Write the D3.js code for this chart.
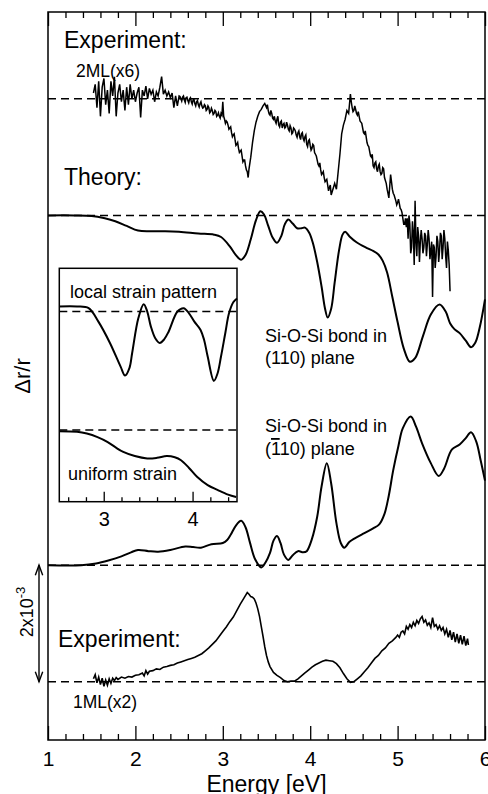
<html>
<head>
<script src="https://d3js.org/d3.v7.min.js"></script>
<style>
  body { margin: 0; background: #fff; }
  svg text { font-family: "Liberation Sans", Arial, Helvetica, sans-serif; fill: #000; }
</style>
</head>
<body>
<svg id="svg" width="488" height="794"></svg>
<script>
// energies (eV) and values (units of 1e-3 dr/r, relative to each curve's own baseline)
var majorTicks = [1, 2, 3, 4, 5, 6];
var insetTicks = [3, 4];

// experiment 2ML (x6)
var exp2 = [[1.52,0.10],[1.54,0.25],[1.56,-0.15],[1.58,0.30],[1.60,-0.30],[1.62,0.20],[1.64,0.35],[1.66,-0.10],
  [1.68,0.15],[1.70,-0.25],[1.72,0.30],[1.74,0.05],[1.76,0.38],[1.78,-0.30],[1.80,0.10],[1.82,0.25],[1.84,-0.05],
  [1.86,0.15],[1.88,-0.20],[1.90,0.20],[1.92,-0.10],[1.94,0.25],[1.96,0.00],[1.98,0.15],[2.00,-0.05],[2.02,0.10],
  [2.04,0.20],[2.06,-0.32],[2.08,0.15],[2.10,0.05],[2.12,0.22],[2.14,0.00],[2.16,0.18],[2.18,0.08],[2.20,0.15],
  [2.22,-0.05],[2.24,0.12],[2.26,0.05],[2.28,0.20],[2.30,0.38],[2.32,0.08],[2.34,0.15],[2.36,0.05],[2.38,0.12],
  [2.40,0.02],[2.42,0.10],[2.44,-0.15],[2.46,0.05],[2.48,-0.12],[2.50,0.05],[2.52,0.00],[2.54,0.03],[2.56,-0.02],
  [2.58,0.02],[2.60,-0.03],[2.62,0.00],[2.64,-0.05],[2.66,-0.02],[2.68,-0.08],[2.70,-0.05],[2.72,-0.10],[2.74,-0.08],
  [2.76,-0.12],[2.78,-0.15],[2.80,-0.12],[2.82,-0.18],[2.84,-0.15],[2.86,-0.22],[2.88,-0.20],[2.90,-0.25],[2.92,-0.22],
  [2.94,-0.28],[2.96,-0.30],[2.98,-0.25],[3.00,-0.05],[3.02,-0.35],[3.04,-0.38],[3.06,-0.45],[3.08,-0.50],[3.10,-0.58],
  [3.12,-0.62],[3.14,-0.70],[3.16,-0.78],[3.18,-0.85],[3.20,-0.90],[3.22,-0.98],[3.24,-1.05],[3.26,-1.15],[3.28,-1.25],
  [3.29,-1.35],[3.30,-1.20],[3.32,-1.00],[3.34,-0.75],[3.36,-0.55],[3.38,-0.40],[3.40,-0.30],[3.42,-0.22],[3.44,-0.18],
  [3.46,-0.12],[3.48,-0.08],[3.50,-0.15],[3.52,-0.20],[3.54,-0.28],[3.56,-0.25],[3.58,-0.35],[3.60,-0.38],[3.62,-0.35],
  [3.64,-0.45],[3.66,-0.40],[3.68,-0.50],[3.70,-0.42],[3.72,-0.48],[3.74,-0.45],[3.76,-0.55],[3.78,-0.50],[3.80,-0.58],
  [3.82,-0.52],[3.84,-0.62],[3.86,-0.58],[3.88,-0.65],[3.90,-0.60],[3.92,-0.68],[3.94,-0.65],[3.96,-0.78],[3.98,-0.72],
  [4.00,-0.80],[4.02,-0.85],[4.04,-0.80],[4.06,-0.95],[4.08,-1.05],[4.10,-1.15],[4.12,-1.22],[4.14,-1.28],[4.16,-1.35],
  [4.18,-1.40],[4.20,-1.48],[4.22,-1.52],[4.24,-1.65],[4.26,-1.55],[4.28,-1.45],[4.30,-1.55],[4.32,-1.25],[4.34,-0.95],
  [4.36,-0.60],[4.38,-0.45],[4.40,-0.35],[4.42,-0.20],[4.44,-0.25],[4.46,0.08],[4.48,-0.15],[4.50,-0.20],[4.52,-0.18],
  [4.54,-0.28],[4.56,-0.30],[4.58,-0.40],[4.60,-0.50],[4.62,-0.60],[4.64,-0.65],[4.66,-0.80],[4.68,-0.90],[4.70,-1.00],
  [4.72,-1.15],[4.74,-1.10],[4.76,-1.20],[4.78,-1.15],[4.80,-1.25],[4.82,-1.28],[4.84,-1.20],[4.86,-1.40],[4.88,-1.55],
  [4.90,-1.70],[4.92,-1.30],[4.94,-1.55],[4.96,-1.65],[4.98,-1.75],[5.00,-1.78],[5.02,-1.80],[5.04,-1.90],[5.06,-2.05],
  [5.08,-2.15],[5.10,-2.20],[5.11,-2.05],[5.12,-2.40],[5.13,-2.00],[5.14,-2.15],[5.15,-2.65],[5.16,-2.55],[5.17,-2.10],
  [5.18,-2.30],[5.19,-2.85],[5.20,-1.75],[5.21,-2.45],[5.22,-2.70],[5.23,-2.20],[5.24,-2.35],[5.25,-2.80],[5.26,-2.45],
  [5.27,-2.25],[5.28,-2.40],[5.29,-2.65],[5.30,-2.55],[5.31,-2.30],[5.32,-2.35],[5.33,-2.70],[5.34,-2.50],[5.35,-2.25],
  [5.36,-2.40],[5.37,-2.75],[5.38,-2.60],[5.39,-2.45],[5.40,-3.40],[5.41,-2.50],[5.42,-2.55],[5.43,-2.90],[5.44,-2.70],
  [5.45,-2.35],[5.46,-2.45],[5.47,-2.80],[5.48,-2.60],[5.49,-2.30],[5.50,-2.35],[5.51,-2.75],[5.52,-2.55],[5.53,-2.25],
  [5.54,-2.40],[5.55,-2.70],[5.56,-2.90],[5.57,-2.45],[5.58,-2.60],[5.59,-2.85],[5.60,-3.30]];
// extra in-between readings of the same trace (dense noise)
var exp2Fine = [[2.51,0.04],[2.53,-0.04],[2.55,0.05],[2.57,-0.06],[2.59,0.03],[2.61,-0.07],[2.63,0.02],[2.65,-0.09],
  [2.67,-0.01],[2.69,-0.12],[2.71,-0.03],[2.73,-0.14],[2.75,-0.05],[2.77,-0.16],[2.79,-0.10],[2.81,-0.20],[2.83,-0.12],
  [2.85,-0.24],[2.87,-0.16],[2.89,-0.27],[2.91,-0.20],[2.93,-0.30],[2.95,-0.24],[2.97,-0.33],[2.99,-0.28],[3.01,-0.30],
  [3.03,-0.42],[3.05,-0.40],[3.07,-0.52],[3.09,-0.48],[3.11,-0.65],[3.13,-0.60],[3.15,-0.80],[3.17,-0.75],[3.19,-0.92],
  [3.21,-0.88],[3.23,-1.08],[3.25,-1.05],[3.27,-1.22],[3.51,-0.10],[3.53,-0.26],[3.55,-0.20],[3.57,-0.33],[3.59,-0.30],
  [3.61,-0.42],[3.63,-0.30],[3.65,-0.48],[3.67,-0.38],[3.69,-0.44],[3.71,-0.50],[3.73,-0.40],[3.75,-0.52],[3.77,-0.46],
  [3.79,-0.60],[3.81,-0.50],[3.83,-0.55],[3.85,-0.66],[3.87,-0.55],[3.89,-0.70],[3.91,-0.58],[3.93,-0.72],[3.95,-0.62],
  [3.97,-0.82],[3.99,-0.70],[4.01,-0.88],[4.03,-0.78],[4.05,-0.92],[4.07,-0.98],[4.09,-1.12],[4.11,-1.10],[4.13,-1.30],
  [4.15,-1.25],[4.17,-1.42],[4.19,-1.38],[4.21,-1.58],[4.23,-1.48],[4.47,-0.05],[4.49,-0.22],[4.51,-0.12],[4.53,-0.25],
  [4.55,-0.22],[4.57,-0.38],[4.59,-0.42],[4.61,-0.58],[4.63,-0.55],[4.65,-0.75],[4.67,-0.82],[4.69,-0.98],[4.71,-0.95],
  [4.73,-1.18],[4.75,-1.08],[4.77,-1.25],[4.79,-1.12],[4.81,-1.30],[4.83,-1.18],[4.85,-1.35],[4.87,-1.45],[4.89,-1.62],
  [4.91,-1.50],[4.93,-1.42],[4.95,-1.62],[4.97,-1.70],[4.99,-1.82],[5.01,-1.72],[5.03,-1.88],[5.05,-1.95],[5.07,-2.15],
  [5.09,-2.05]];

// theory, Si-O-Si bond in (110) plane
var theory110 = [[1.0,0],[1.3,0],[1.5,-0.01],[1.65,-0.05],[1.77,-0.10],[1.9,-0.18],[2.03,-0.26],[2.2,-0.27],
  [2.34,-0.27],[2.5,-0.28],[2.72,-0.31],[2.9,-0.33],[2.98,-0.37],[3.08,-0.53],[3.15,-0.68],[3.21,-0.76],[3.26,-0.68],
  [3.32,-0.41],[3.38,-0.08],[3.43,0.07],[3.47,0.02],[3.52,-0.18],[3.57,-0.38],[3.62,-0.47],[3.67,-0.35],[3.71,-0.15],
  [3.75,-0.07],[3.8,-0.14],[3.85,-0.22],[3.9,-0.22],[3.94,-0.21],[3.99,-0.30],[4.03,-0.47],[4.08,-0.80],[4.13,-1.22],
  [4.17,-1.60],[4.2,-1.75],[4.24,-1.60],[4.28,-1.15],[4.33,-0.60],[4.37,-0.33],[4.4,-0.28],[4.45,-0.36],[4.53,-0.46],
  [4.65,-0.56],[4.72,-0.61],[4.78,-0.67],[4.83,-0.78],[4.88,-0.98],[4.94,-1.40],[5.0,-1.83],[5.07,-2.28],[5.14,-2.51],
  [5.2,-2.45],[5.29,-2.07],[5.38,-1.70],[5.48,-1.53],[5.55,-1.65],[5.6,-1.85],[5.65,-1.95],[5.71,-2.02],[5.78,-2.15],
  [5.84,-2.26],[5.89,-2.18],[5.94,-1.92],[6.0,-1.44]];

// theory, Si-O-Si bond in (-110) plane
var theory1b10 = [[1.0,0],[1.38,0],[1.55,0.03],[1.69,0.08],[1.84,0.15],[1.95,0.22],[2.03,0.26],[2.15,0.24],
  [2.26,0.23],[2.4,0.26],[2.57,0.32],[2.66,0.31],[2.75,0.30],[2.87,0.36],[3.0,0.38],[3.05,0.43],[3.09,0.52],
  [3.15,0.68],[3.21,0.76],[3.26,0.65],[3.31,0.39],[3.37,0.10],[3.44,-0.04],[3.49,0.05],[3.54,0.21],[3.58,0.42],
  [3.62,0.50],[3.66,0.38],[3.70,0.18],[3.75,0.09],[3.8,0.17],[3.86,0.24],[3.92,0.22],[3.96,0.24],[4.02,0.45],
  [4.08,0.83],[4.13,1.35],[4.19,1.75],[4.24,1.40],[4.30,0.72],[4.35,0.38],[4.39,0.30],[4.45,0.40],[4.51,0.46],
  [4.62,0.55],[4.72,0.63],[4.79,0.70],[4.85,0.88],[4.90,1.20],[4.95,1.63],[5.01,2.05],[5.06,2.35],[5.15,2.55],
  [5.21,2.38],[5.28,2.09],[5.38,1.75],[5.47,1.53],[5.53,1.65],[5.62,1.98],[5.71,2.07],[5.78,2.18],[5.84,2.28],
  [5.9,2.12],[5.95,1.80],[6.0,1.45]];

// experiment 1ML (x2)
var exp1 = [[1.52,0.05],[1.54,0.12],[1.56,-0.02],[1.58,0.08],[1.60,-0.05],[1.62,0.06],[1.64,-0.08],[1.66,0.03],
  [1.68,-0.06],[1.70,0.05],[1.72,-0.03],[1.74,0.06],[1.76,0.02],[1.78,0.07],[1.80,0.04],[1.84,0.08],[1.88,0.06],
  [1.92,0.09],[1.96,0.08],[2.00,0.11],[2.04,0.12],[2.08,0.15],[2.10,0.10],[2.12,0.19],[2.14,0.13],[2.16,0.18],
  [2.20,0.19],[2.24,0.22],[2.28,0.21],[2.32,0.25],[2.36,0.26],[2.40,0.28],[2.44,0.29],[2.48,0.32],[2.52,0.34],
  [2.56,0.36],[2.60,0.38],[2.64,0.40],[2.68,0.42],[2.72,0.45],[2.76,0.48],[2.80,0.53],[2.84,0.58],[2.88,0.64],
  [2.92,0.70],[2.96,0.78],[3.00,0.86],[3.04,0.94],[3.08,1.03],[3.12,1.11],[3.16,1.22],[3.20,1.33],[3.24,1.43],
  [3.28,1.53],[3.30,1.50],[3.32,1.46],[3.34,1.45],[3.36,1.42],[3.38,1.35],[3.40,1.25],[3.42,1.12],[3.44,0.95],
  [3.46,0.78],[3.48,0.60],[3.50,0.45],[3.52,0.34],[3.54,0.26],[3.58,0.16],[3.62,0.11],[3.66,0.07],[3.70,0.02],
  [3.74,0.00],[3.78,0.01],[3.82,0.01],[3.86,0.05],[3.90,0.10],[3.94,0.15],[3.98,0.20],[4.02,0.25],[4.06,0.29],
  [4.10,0.32],[4.14,0.35],[4.18,0.37],[4.22,0.36],[4.26,0.35],[4.30,0.31],[4.34,0.24],[4.38,0.14],[4.42,0.05],
  [4.46,-0.01],[4.50,0.00],[4.54,0.05],[4.58,0.10],[4.62,0.17],[4.66,0.24],[4.70,0.32],[4.74,0.40],[4.78,0.45],
  [4.82,0.53],[4.86,0.58],[4.90,0.66],[4.94,0.70],[4.98,0.76],[5.00,0.80],[5.02,0.76],[5.04,0.85],[5.06,0.87],
  [5.08,0.82],[5.10,0.95],[5.12,0.90],[5.14,0.98],[5.16,0.93],[5.18,1.02],[5.20,0.96],[5.22,1.05],[5.24,1.00],
  [5.26,1.08],[5.28,1.12],[5.30,1.02],[5.32,1.06],[5.34,0.97],[5.36,1.01],[5.38,0.93],[5.40,1.10],[5.42,0.95],
  [5.44,0.98],[5.46,0.90],[5.48,0.96],[5.50,0.88],[5.52,0.93],[5.54,0.82],[5.56,0.90],[5.58,0.76],[5.60,0.88],
  [5.62,0.72],[5.64,0.85],[5.66,0.68],[5.68,0.82],[5.70,0.66],[5.72,0.80],[5.74,0.64],[5.76,0.78],[5.78,0.62],
  [5.80,0.74],[5.81,0.63]];

// inset: local strain pattern and uniform strain
var insetLocal = [[2.5,0.085],[2.7,0.085],[2.83,0.057],[2.94,-0.17],[3.07,-0.53],[3.19,-0.93],[3.24,-1.08],
  [3.29,-0.95],[3.32,-0.70],[3.39,-0.11],[3.45,0.125],[3.49,0.0],[3.53,-0.25],[3.58,-0.45],[3.63,-0.53],[3.68,-0.47],
  [3.73,-0.34],[3.83,0.0],[3.90,0.057],[3.96,-0.03],[4.02,-0.17],[4.09,-0.31],[4.13,-0.48],[4.17,-0.76],[4.24,-1.17],
  [4.28,-1.05],[4.32,-0.76],[4.37,-0.35],[4.41,-0.03],[4.46,0.16],[4.5,0.22]];
var insetUniform = [[2.5,-0.02],[2.7,-0.03],[2.81,-0.06],[2.93,-0.12],[3.04,-0.20],[3.13,-0.29],[3.22,-0.37],
  [3.35,-0.44],[3.49,-0.48],[3.6,-0.47],[3.71,-0.44],[3.8,-0.46],[3.87,-0.51],[3.96,-0.64],[4.05,-0.79],[4.17,-0.93],
  [4.28,-1.01],[4.4,-1.09],[4.49,-1.13]];

var svg = d3.select("svg");
var font = "'Liberation Sans', Arial, Helvetica, sans-serif";

var x = d3.scaleLinear().domain([1, 6]).range([48, 485]);
var y = d3.scaleLinear().domain([-1, 11.49]).range([740, 12]);

function lineAt(off, curve) {
    return d3.line()
        .x(function(d){ return x(d[0]); })
        .y(function(d){ return y(d[1] + off); })
        .curve(curve || d3.curveLinear);
}

// frame
svg.append("rect").attr("x", 48).attr("y", 12).attr("width", 437).attr("height", 728)
   .attr("fill", "none").attr("stroke", "#000").attr("stroke-width", 1.5);

// axes ticks (inward)
var minor = d3.range(1, 6.01, 0.2).map(function(v){ return +v.toFixed(1); })
              .filter(function(v){ return majorTicks.indexOf(v) < 0; });
var gb = svg.append("g").attr("transform", "translate(0,740)");
gb.call(d3.axisBottom(x).tickValues(majorTicks).tickSize(-14).tickPadding(11).tickFormat(d3.format("d")));
gb.append("g").call(d3.axisBottom(x).tickValues(minor).tickSize(-6).tickFormat(""));
var gt = svg.append("g").attr("transform", "translate(0,12)");
gt.call(d3.axisTop(x).tickValues(majorTicks).tickSize(-14).tickFormat(""));
gt.append("g").call(d3.axisTop(x).tickValues(minor).tickSize(-6).tickFormat(""));
svg.selectAll(".domain").remove();
svg.selectAll(".tick line").attr("stroke-width", 1.3);
gb.selectAll("text").attr("font-size", 21).attr("font-family", font);

// dashed baselines
var baselines = [10, 8, 2, 0];
svg.selectAll(".base").data(baselines).enter().append("line")
   .attr("x1", 48).attr("x2", 485)
   .attr("y1", function(d){ return y(d); }).attr("y2", function(d){ return y(d); })
   .attr("stroke", "#000").attr("stroke-width", 1.5).attr("stroke-dasharray", "8,5");

// curves
var smooth = d3.curveCatmullRom.alpha(0.5);
var exp2All = exp2.concat(exp2Fine).sort(function(a, b){ return a[0] - b[0]; });
svg.append("path").attr("d", lineAt(10)(exp2All)).attr("fill", "none").attr("stroke", "#000").attr("stroke-width", 1.5);
svg.append("path").attr("d", lineAt(8, smooth)(theory110)).attr("fill", "none").attr("stroke", "#000").attr("stroke-width", 2);
svg.append("path").attr("d", lineAt(2, smooth)(theory1b10)).attr("fill", "none").attr("stroke", "#000").attr("stroke-width", 2);
svg.append("path").attr("d", lineAt(0)(exp1)).attr("fill", "none").attr("stroke", "#000").attr("stroke-width", 1.6);

// inset
var xi = d3.scaleLinear().domain([2.5, 4.5]).range([59.3, 237]);
var yi = d3.scaleLinear().domain([-3.21, 0.73]).range([501.7, 268.3]);
var gi = svg.append("g");
gi.append("rect").attr("x", 59.3).attr("y", 268.3).attr("width", 177.7).attr("height", 233.4)
  .attr("fill", "#fff").attr("stroke", "#000").attr("stroke-width", 1.5);
[0, -2].forEach(function(b){
    gi.append("line").attr("x1", 59.3).attr("x2", 237).attr("y1", yi(b)).attr("y2", yi(b))
      .attr("stroke", "#000").attr("stroke-width", 1.4).attr("stroke-dasharray", "8,5");
});
function insetLine(off) {
    return d3.line().x(function(d){ return xi(d[0]); }).y(function(d){ return yi(d[1] + off); }).curve(smooth);
}
gi.append("path").attr("d", insetLine(0)(insetLocal)).attr("fill", "none").attr("stroke", "#000").attr("stroke-width", 2);
gi.append("path").attr("d", insetLine(-2)(insetUniform)).attr("fill", "none").attr("stroke", "#000").attr("stroke-width", 2);
var insetMinor = [2.6, 2.8, 3.2, 3.4, 3.6, 3.8, 4.2, 4.4];
var gia = gi.append("g").attr("transform", "translate(0,501.7)");
gia.call(d3.axisBottom(xi).tickValues(insetTicks).tickSize(-10).tickPadding(10).tickFormat(d3.format("d")));
gia.append("g").call(d3.axisBottom(xi).tickValues(insetMinor).tickSize(-4.5).tickFormat(""));
gia.selectAll(".domain").remove();
gia.selectAll(".tick line").attr("stroke-width", 1.3);
gia.selectAll("text").attr("font-size", 20).attr("font-family", font);

// text labels
function label(tx, ty, s, size) {
    return svg.append("text").attr("x", tx).attr("y", ty).attr("font-size", size).text(s);
}
label(64, 48, "Experiment:", 23);
label(76, 77, "2ML(x6)", 17.5);
label(64, 185, "Theory:", 23);
label(58, 647, "Experiment:", 23);
label(73, 708, "1ML(x2)", 17.5);
label(70, 298, "local strain pattern", 18);
label(68, 480, "uniform strain", 18);
label(265, 342, "Si-O-Si bond in", 18);
label(265, 364, "(110) plane", 18);
label(265, 432, "Si-O-Si bond in", 18);
var t2 = label(265, 455, "(", 18);
t2.append("tspan").style("text-decoration", "overline").text("1");
t2.append("tspan").text("10) plane");

svg.append("text").attr("x", 266.5).attr("y", 792).attr("text-anchor", "middle")
   .attr("font-size", 23).text("Energy [eV]");
svg.append("text").attr("transform", "translate(30,376) rotate(-90)").attr("text-anchor", "middle")
   .attr("font-size", 22).text("\u0394r/r");

// 2x10^-3 scale bar
var sb = svg.append("g");
sb.append("line").attr("x1", 39).attr("x2", 39).attr("y1", y(2)).attr("y2", y(0))
  .attr("stroke", "#000").attr("stroke-width", 1.4);
sb.append("path").attr("d", "M35.3," + (y(2) + 10) + "L39," + y(2) + "L42.7," + (y(2) + 10))
  .attr("fill", "none").attr("stroke", "#000").attr("stroke-width", 1.4);
sb.append("path").attr("d", "M35.3," + (y(0) - 10) + "L39," + y(0) + "L42.7," + (y(0) - 10))
  .attr("fill", "none").attr("stroke", "#000").attr("stroke-width", 1.4);
var st = svg.append("text").attr("transform", "translate(33,612) rotate(-90)").attr("text-anchor", "middle")
   .attr("font-size", 18).text("2x10");
st.append("tspan").attr("dy", -8).attr("font-size", 13).text("-3");
</script>
</body>
</html>
